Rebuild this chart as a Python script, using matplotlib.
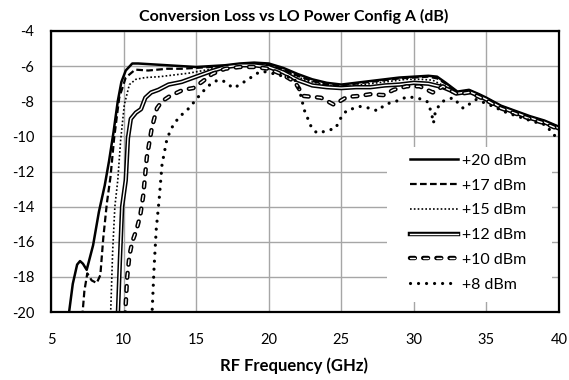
import matplotlib
matplotlib.use('Agg')
import matplotlib.pyplot as plt
import matplotlib.patheffects as pe
from matplotlib.patches import Rectangle

plt.rcParams['font.family'] = ['Lato', 'DejaVu Sans']
plt.rcParams['axes.unicode_minus'] = False

# +20 dBm
x20 = [6.2, 6.5, 6.8, 7.0, 7.2, 7.46, 7.9, 8.3, 8.7, 9.0, 9.3, 9.6, 9.85, 10.15, 10.6, 11, 12, 13, 14, 15,
       16, 17, 18, 19, 20, 21, 22, 23, 24, 25, 26, 27, 28, 29, 30, 31, 31.6, 32.2, 33, 33.8, 34.5, 35,
       36, 37, 38, 39, 40]
y20 = [-20.3, -18.4, -17.3, -17.1, -17.25, -17.6, -16.2, -14.3, -12.8, -11.4, -9.8, -8.0, -6.9, -6.25, -5.85,
       -5.85, -5.9, -5.95, -6.0, -6.05, -6.0, -5.95, -5.85, -5.8, -5.85, -6.1, -6.45, -6.75, -6.95, -7.05,
       -6.95, -6.85, -6.75, -6.65, -6.6, -6.55, -6.6, -6.95, -7.45, -7.35, -7.6, -7.8, -8.25, -8.55, -8.85,
       -9.1, -9.45]

# +17 dBm
x17 = [7.15, 7.3, 7.5, 7.8, 8.15, 8.4, 8.6, 8.85, 9.1, 9.35, 9.7, 10.15, 10.8, 11.7, 13, 14, 15, 16, 17,
       18, 19, 20, 21, 22, 23, 24, 25, 26, 27, 28, 29, 30, 31, 31.6, 32.2, 33, 33.8, 34.5, 35, 36, 37,
       38, 39, 40]
y17 = [-20.3, -18.8, -17.8, -18.2, -18.35, -17.9, -15.8, -13.8, -12.3, -10.1, -7.8, -6.65, -6.2, -6.25,
       -6.15, -6.15, -6.1, -6.05, -6.0, -5.9, -5.85, -5.9, -6.2, -6.55, -6.85, -7.05, -7.1, -7.0, -6.9,
       -6.8, -6.7, -6.65, -6.6, -6.7, -7.0, -7.5, -7.4, -7.65, -7.85, -8.3, -8.6, -8.9, -9.15, -9.5]

# +15 dBm
x15 = [9.1, 9.25, 9.4, 9.6, 9.8, 10.05, 10.4, 10.85, 11.5, 12.5, 13.5, 14.5, 15.5, 16.5, 17.5, 18.5, 19.5,
       20.5, 21.5, 22.5, 23.5, 24.5, 25.5, 26.5, 27.5, 28.5, 29.5, 30.5, 31.3, 32, 33, 33.8, 34.5, 35, 36,
       37, 38, 39, 40]
y15 = [-20.3, -16.5, -14.0, -12.5, -10.2, -8.2, -7.05, -6.75, -6.65, -6.6, -6.5, -6.4, -6.25, -6.1, -6.0,
       -5.95, -5.95, -6.1, -6.4, -6.8, -7.0, -7.15, -7.15, -7.05, -6.95, -6.85, -6.75, -6.75, -6.8, -7.1,
       -7.55, -7.45, -7.7, -7.9, -8.35, -8.65, -8.95, -9.2, -9.55]

# +12 dBm
x12 = [9.6, 9.75, 9.9, 10.15, 10.3, 10.5, 10.85, 11.2, 11.5, 11.9, 12.4, 13.1, 14, 15, 16, 17, 18, 19, 20,
       21, 22, 23, 24, 25, 26, 27, 28, 29, 30, 31, 32, 33, 33.8, 34.5, 35, 36, 37, 38, 39, 40]
y12 = [-20.3, -17.0, -14.0, -12.5, -10.1, -9.0, -8.65, -8.45, -7.8, -7.5, -7.35, -7.05, -6.9, -6.6, -6.3,
       -6.05, -5.95, -5.95, -6.05, -6.35, -6.8, -7.1, -7.2, -7.25, -7.2, -7.2, -7.1, -7.05, -6.95, -7.0,
       -7.2, -7.55, -7.45, -7.7, -7.9, -8.35, -8.65, -8.95, -9.2, -9.55]

# +10 dBm
x10 = [10.1, 10.25, 10.4, 10.6, 10.9, 11.15, 11.35, 11.6, 11.95, 12.3, 12.65, 13.2, 14.1, 14.8, 15.4, 16.1,
       17, 18, 19, 20, 21, 21.8, 22.4, 23.6, 24.5, 25.4, 26.2, 27, 27.9, 28.6, 29.5, 30.4, 31.3, 32, 33,
       33.8, 34.5, 35, 36, 37, 38, 39, 40]
y10 = [-20.3, -18.0, -16.8, -16.0, -15.3, -14.5, -13.4, -11.2, -9.5, -8.4, -8.0, -7.7, -7.35, -7.25, -6.9,
       -6.45, -6.15, -6.05, -6.05, -6.15, -6.5, -6.9, -7.7, -7.8, -8.2, -7.75, -7.7, -7.6, -7.65, -7.35,
       -7.15, -7.15, -7.5, -7.15, -7.6, -7.5, -7.75, -7.95, -8.4, -8.7, -9.0, -9.25, -9.6]

# +8 dBm
x8 = [11.95, 12.1, 12.25, 12.45, 12.65, 13.0, 13.45, 13.9, 14.5, 14.9, 15.3, 15.8, 16.3, 16.8, 17.2, 17.6,
      18.1, 18.6, 19.1, 19.5, 20.0, 20.6, 21.2, 21.75, 22.1, 22.45, 22.9, 23.3, 23.7, 24.1, 24.6, 25.0,
      25.4, 25.9, 26.3, 27.0, 27.5, 28.0, 28.5, 29.0, 29.5, 30.2, 30.9, 31.2, 31.35, 31.5, 32.0, 32.7,
      33.4, 34.3, 35.2, 36.4, 37.3, 38.2, 39.1, 39.6, 40]
y8 = [-20.3, -17.5, -15.3, -13.6, -11.6, -10.1, -9.3, -8.85, -8.4, -8.0, -7.6, -7.15, -6.85, -6.8, -7.05,
      -7.25, -7.0, -6.75, -6.45, -6.3, -6.35, -6.5, -6.6, -6.7, -7.3, -8.5, -9.4, -9.8, -9.75, -9.65,
      -9.55, -8.9, -8.5, -8.4, -8.3, -8.4, -8.55, -8.2, -8.05, -7.95, -7.75, -7.8, -8.0, -8.6, -9.25,
      -8.5, -8.0, -7.8, -8.4, -7.9, -8.2, -8.65, -8.9, -9.15, -9.35, -9.9, -10.1]

labels = ['+20 dBm', '+17 dBm', '+15 dBm', '+12 dBm', '+10 dBm', '+8 dBm']
x_ticks = [5, 10, 15, 20, 25, 30, 35, 40]
y_ticks = [-4, -6, -8, -10, -12, -14, -16, -18, -20]

fig = plt.figure(figsize=(5.69, 3.80), dpi=100)
ax = fig.add_axes([51 / 569, 68 / 380, 508 / 569, 281 / 380])

ax.plot(x20, y20, color='black', lw=1.8, label=labels[0])
ax.plot(x17, y17, color='black', lw=1.6, dashes=(3, 1.5), label=labels[1])
ax.plot(x15, y15, color='black', lw=1.2, dashes=(1, 1.3), label=labels[2])
double = [pe.Stroke(linewidth=3.2, foreground='black'), pe.Normal()]
ax.plot(x12, y12, color='white', lw=1.0, path_effects=double, label=labels[3])
ax.plot(x10, y10, color='white', lw=1.0, dashes=(3.5, 6), dash_capstyle='round',
        path_effects=double, label=labels[4])
ax.plot(x8, y8, color='black', lw=2.3, dashes=(0.01, 2.5), dash_capstyle='round', label=labels[5])

ax.set_xlim(5, 40)
ax.set_ylim(-20, -4)
ax.set_xticks(x_ticks)
ax.set_yticks(y_ticks)
ax.tick_params(axis='x', length=0, labelsize=10.5, pad=15)
ax.tick_params(axis='y', length=0, labelsize=10.5, pad=12)
ax.grid(True, color='#a6a6a6', lw=1.0)
ax.set_axisbelow(True)
for s in ax.spines.values():
    s.set_linewidth(1.6)

ax.set_title('Conversion Loss vs LO Power Config A (dB)', fontsize=11.5, fontweight='bold',
             x=0.478, pad=7)
ax.set_xlabel('RF Frequency (GHz)', fontsize=12, fontweight='bold', labelpad=8)
ax.xaxis.set_label_coords(0.478, -0.16)

# white legend area hides the gridlines behind it
ax.add_patch(Rectangle((0.662, 0.036), 0.324, 0.552, transform=ax.transAxes,
                       facecolor='white', edgecolor='none', zorder=1))
ax.legend(loc='upper left', bbox_to_anchor=(0.707, 0.563), borderaxespad=0, borderpad=0,
          frameon=False, fontsize=11.5, handlelength=3.0, handletextpad=0.25, labelspacing=0.66)

plt.savefig('out.png')
